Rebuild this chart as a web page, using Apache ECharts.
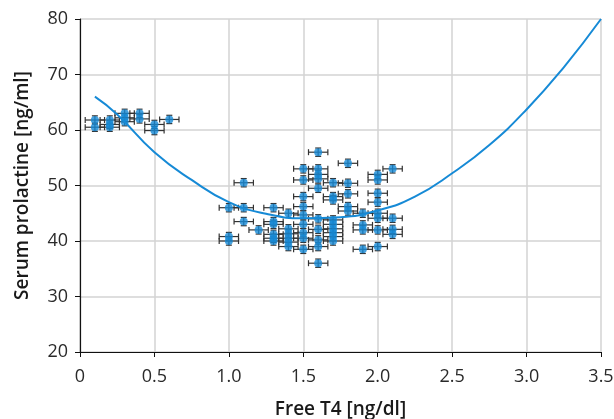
<!DOCTYPE html>
<html>
<head>
<meta charset="utf-8">
<script src="https://cdn.jsdelivr.net/npm/echarts@6/dist/echarts.min.js"></script>
<style>html,body{margin:0;padding:0;background:#fff}#c{width:614px;height:419px}</style>
</head>
<body>
<div id="c"></div>
<script>
// Free T4 values (x) and serum prolactine values (y) of the observations
var freeT4 = [
  0.1,0.1,0.2,0.2,0.2,0.3,0.3,0.3,0.4,0.4,0.5,0.5,0.6,
  1.0,1.0,1.0,
  1.1,1.1,1.1,
  1.2,
  1.3,1.3,1.3,1.3,1.3,1.3,
  1.4,1.4,1.4,1.4,1.4,1.4,
  1.5,1.5,1.5,1.5,1.5,1.5,1.5,1.5,1.5,
  1.6,1.6,1.6,1.6,1.6,1.6,1.6,1.6,1.6,1.6,
  1.7,1.7,1.7,1.7,1.7,1.7,1.7,1.7,1.7,
  1.8,1.8,1.8,1.8,1.8,
  1.9,1.9,1.9,1.9,
  2.0,2.0,2.0,2.0,2.0,2.0,2.0,2.0,
  2.1,2.1,2.1,2.1
];
var prolactine = [
  61.8,60.5,61.8,61.0,60.5,63.0,62.2,61.5,63.0,62.0,61.0,59.9,61.9,
  46.0,40.8,40.0,
  50.5,46.0,43.5,
  42.0,
  46.0,43.5,43.0,41.2,40.5,40.0,
  45.0,42.2,41.3,40.5,39.8,39.0,
  53.0,51.0,48.0,46.2,44.7,43.0,41.5,40.5,38.5,
  56.0,53.0,52.0,51.2,49.5,44.0,42.1,40.2,39.0,36.0,
  50.5,48.0,47.4,43.8,43.0,42.2,41.5,40.8,40.0,
  54.0,50.4,48.5,46.2,45.4,
  45.0,42.9,42.0,38.5,
  52.0,51.0,48.6,47.0,45.0,44.1,42.0,39.0,
  53.0,44.1,42.1,41.2
];
// error bar half-widths
var errX = 0.065;
var errY = 0.75;
// fitted curve
var fitX = [0.1,0.25,0.5,0.75,1.0,1.25,1.5,1.75,2.0,2.25,2.5,2.75,3.0,3.25,3.5];
var fitY = [66,62.8,56,51,47,44.9,44.1,44.3,45.5,48,52.2,57.3,63.7,71.3,80];
var xTicks = ['0','0.5','1.0','1.5','2.0','2.5','3.0','3.5'];

var pts = freeT4.map(function(x,i){return [x, prolactine[i]];});
var fit = fitX.map(function(x,i){return [x, fitY[i]];});

var chart = echarts.init(document.getElementById('c'));
var font = '"Open Sans", "Noto Sans", sans-serif';
var blue = '#168ad6';
chart.setOption({
  animation: false,
  grid: {left: 80, right: 13, top: 19, bottom: 67, containLabel: false, outerBoundsMode: 'none'},
  xAxis: {
    type: 'value', min: 0, max: 3.5, interval: 0.5,
    name: 'Free T4 [ng/dl]', nameLocation: 'middle', nameGap: 48,
    nameTextStyle: {fontFamily: font, fontSize: 19, fontWeight: 600, color: '#1a1a1a'},
    axisLine: {lineStyle: {color: '#111', width: 1.2}},
    axisTick: {show: true, length: 5, lineStyle: {color: '#111'}},
    axisLabel: {fontFamily: font, fontSize: 18, color: '#2a2a2a', margin: 16,
      formatter: function(v){ var i = Math.round(v/0.5); return xTicks[i]; }},
    splitLine: {show: true, lineStyle: {color: '#d3d3d3', width: 1.5}}
  },
  yAxis: {
    type: 'value', min: 20, max: 80, interval: 10,
    name: 'Serum prolactine [ng/ml]', nameLocation: 'middle', nameGap: 48,
    nameTextStyle: {fontFamily: font, fontSize: 19, fontWeight: 600, color: '#1a1a1a'},
    axisLine: {show: true, lineStyle: {color: '#111', width: 1.2}},
    axisTick: {show: true, length: 5, lineStyle: {color: '#111'}},
    axisLabel: {fontFamily: font, fontSize: 18, color: '#2a2a2a', margin: 12},
    splitLine: {show: true, lineStyle: {color: '#d3d3d3', width: 1.5}}
  },
  series: [
    {
      type: 'custom',
      data: pts,
      renderItem: function(params, api){
        var x = api.value(0), y = api.value(1);
        var l = api.coord([x-errX, y]), r = api.coord([x+errX, y]);
        var t = api.coord([x, y+errY]), b = api.coord([x, y-errY]);
        var c = 3;
        var st = {stroke: '#333', lineWidth: 1.2};
        return {type: 'group', children: [
          {type: 'line', shape: {x1: l[0], y1: l[1], x2: r[0], y2: r[1]}, style: st},
          {type: 'line', shape: {x1: l[0], y1: l[1]-c, x2: l[0], y2: l[1]+c}, style: st},
          {type: 'line', shape: {x1: r[0], y1: r[1]-c, x2: r[0], y2: r[1]+c}, style: st},
          {type: 'line', shape: {x1: t[0], y1: t[1], x2: b[0], y2: b[1]}, style: st},
          {type: 'line', shape: {x1: t[0]-c, y1: t[1], x2: t[0]+c, y2: t[1]}, style: st},
          {type: 'line', shape: {x1: b[0]-c, y1: b[1], x2: b[0]+c, y2: b[1]}, style: st}
        ]};
      },
      z: 2
    },
    {
      type: 'scatter', data: pts, symbol: 'circle', symbolSize: 8,
      itemStyle: {color: blue}, z: 3
    },
    {
      type: 'line', data: fit, smooth: true, showSymbol: false,
      lineStyle: {color: blue, width: 2}, z: 4
    }
  ]
});
</script>
</body>
</html>
